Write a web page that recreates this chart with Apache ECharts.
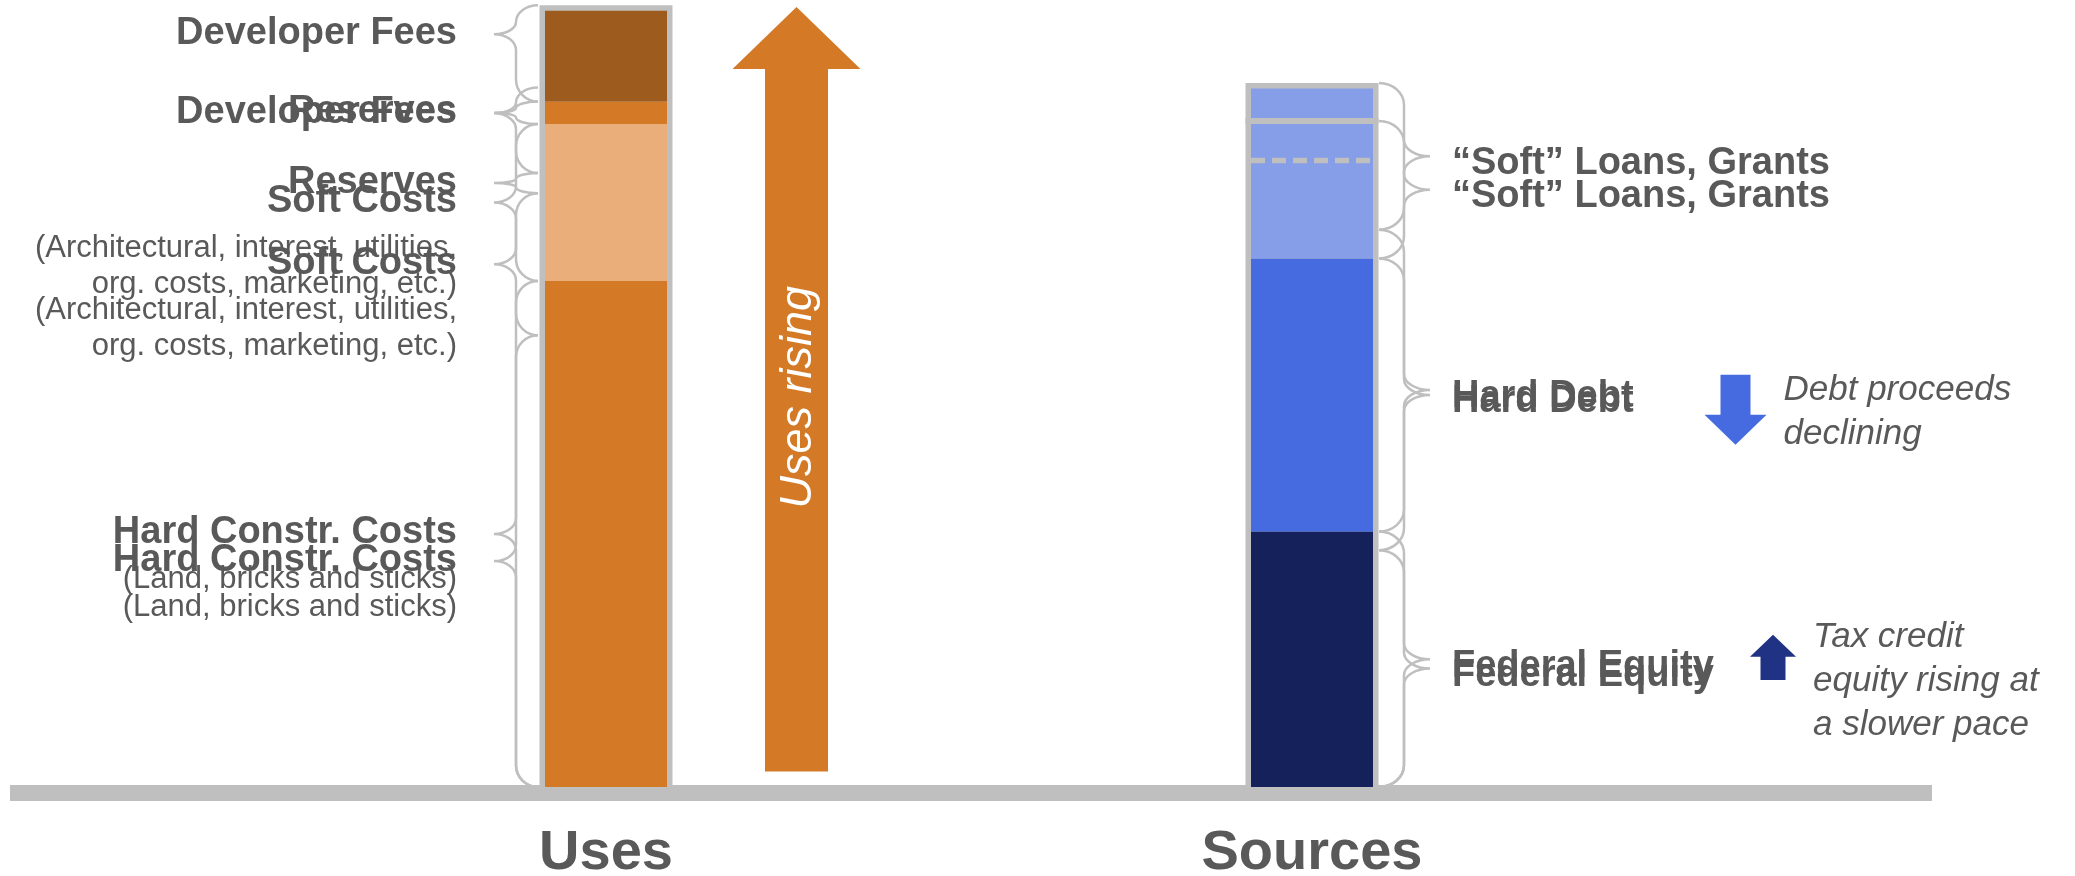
<!DOCTYPE html>
<html>
<head>
<meta charset="utf-8">
<title>Uses and Sources</title>
<script src="https://cdn.jsdelivr.net/npm/echarts@6/dist/echarts.min.js"></script>
<style>
  html, body { margin: 0; padding: 0; background: #ffffff; }
  #chart { width: 2075px; height: 876px; }
</style>
</head>
<body>
<div id="chart"></div>
<script>
// ---- data -------------------------------------------------------------
const categories = ['Uses', 'Sources'];

// Uses, bottom to top (share of total development cost)
const usesLabels = ['Hard Constr. Costs', 'Soft Costs', 'Reserves', 'Developer Fees'];
const usesNotes = ['(Land, bricks and sticks)', '(Architectural, interest, utilities,\norg. costs, marketing, etc.)', '', ''];
const usesNow = [65.2, 20.2, 2.9, 11.7];
const usesEarlier = [58.2, 18.3, 2.6, 11.0];

// Sources, bottom to top
const sourcesLabels = ['Federal Equity', 'Hard Debt', '\u201CSoft\u201D Loans, Grants'];
const sourcesNow = [32.9, 35.2, 21.9];
const sourcesEarlier = [30.5, 41.3, 18.2];
const sourcesLater = [32.9, 35.2, 17.7];
const softLoanSplit = 80.7;

// Trend arrows: [column, from, to]
const arrowValues = [[0, 2.0, 100.5], [1, 53.1, 44.1], [1, 13.8, 19.6]];
const arrowTexts = ['Uses rising', 'Debt proceeds\ndeclining', 'Tax credit\nequity rising at\na slower pace'];

// ---- styling ----------------------------------------------------------
const FONT = '"Liberation Sans", Arial, sans-serif';
const TEXT = '#595959';
const GRAY = '#BFBFBF';
const usesColors = ['#D47A27', '#E9AE79', '#D47A27', '#9D5B1E'];
const sourcesColors = ['#14215B', '#466BE0', '#869DE8'];
const BAR_W = 122;
const FRAME = 5.5;
const braceGeom = {
  '-1': { end: 68, spine: 90, tip: 112, gap: 37, dy: -1 },
  '1': { end: 67, spine: 92, tip: 118, gap: 22, dy: 7 }
};
const arrowGeom = [
  { dx: 190.5, shaft: 31.5, head: 64, headLen: 62, color: '#D47A27' },
  { dx: 423.5, shaft: 15, head: 31, headLen: 30, color: '#466BE0', noteDx: 48, noteDy: 15 },
  { dx: 461, shaft: 12.5, head: 23, headLen: 22, color: '#1F3284', noteDx: 40, noteDy: 2 }
];

const sum = a => a.reduce((s, v) => s + v, 0);
const usesTotal = sum(usesNow);
const sourcesTotal = sum(sourcesNow);

// stacked layers: layer i holds segment i of each column
const layers = [];
for (let i = 0; i < usesNow.length; i++) {
  layers.push({
    type: 'bar', stack: 'funds', barWidth: BAR_W, z: 2,
    data: [
      { value: usesNow[i], itemStyle: { color: usesColors[i] } },
      i < sourcesNow.length ? { value: sourcesNow[i], itemStyle: { color: sourcesColors[i] } } : '-'
    ]
  });
}

// gray outline behind each column
const frameData = [[0, usesTotal], [1, sourcesTotal]];
function renderFrame(params, api) {
  const pTop = api.coord([api.value(0), api.value(1)]);
  const pBot = api.coord([api.value(0), 0]);
  const half = BAR_W / 2 + FRAME;
  return {
    type: 'rect',
    shape: { x: pTop[0] - half, y: pTop[1] - FRAME, width: half * 2, height: pBot[1] - pTop[1] + FRAME },
    style: { fill: GRAY }
  };
}

function braceData(cat, sets, side, tipFracs, barTotal) {
  const out = [];
  sets.forEach(vals => {
    let lo = 0;
    vals.forEach((v, i) => {
      const hi = lo + v;
      out.push([cat, lo, hi, tipFracs[i], side, i, Math.abs(hi - barTotal) < 0.05 ? 1 : 0]);
      lo = hi;
    });
  });
  return out;
}
const braces = []
  .concat(braceData(0, [usesNow, usesEarlier], -1, [0.5, 0.5, 0.5, 0.3], usesTotal))
  .concat(braceData(1, [sourcesEarlier, sourcesLater], 1, [0.5, 0.5, 0.5], sourcesTotal));

function halfRadii(span) {
  let rE = 22, rT = 16;
  if (rE + rT > span) { const k = span / (rE + rT); rE *= k; rT *= k; }
  return [rE, rT];
}
function bracePath(x0, x1, x2, yT, yM, yB) {
  const K = 0.5523;
  const [aE, aT] = halfRadii(yM - yT);
  const [bE, bT] = halfRadii(yB - yM);
  const dE = x1 - x0, dT = x2 - x1;
  return [
    'M', x0, yT,
    'C', x0 + K * dE, yT, x1, yT + aE * (1 - K), x1, yT + aE,
    'L', x1, yM - aT,
    'C', x1, yM - aT * (1 - K), x2 - K * dT, yM, x2, yM,
    'C', x2 - K * dT, yM, x1, yM + bT * (1 - K), x1, yM + bT,
    'L', x1, yB - bE,
    'C', x1, yB - bE * (1 - K), x0 + K * dE, yB, x0, yB
  ].join(' ');
}

function renderBrace(params, api) {
  const cat = api.value(0), lo = api.value(1), hi = api.value(2);
  const frac = api.value(3), side = api.value(4), li = api.value(5), ext = api.value(6);
  const pLo = api.coord([cat, lo]);
  const pHi = api.coord([cat, hi]);
  const yB = pLo[1];
  const yT = pHi[1] - (ext ? FRAME : 0);
  const cx = pLo[0];
  const g = braceGeom[String(side)];
  const x0 = cx + side * g.end, x1 = cx + side * g.spine, x2 = cx + side * g.tip;
  const yM = yT + (yB - yT) * frac;
  const children = [{
    type: 'path',
    shape: { pathData: bracePath(x0, x1, x2, yT, yM, yB) },
    style: { fill: null, stroke: GRAY, lineWidth: 2.5 }
  }];
  const rich = {
    t: { fontFamily: FONT, fontSize: 38, fontWeight: 'bold', lineHeight: 58, fill: TEXT },
    n: { fontFamily: FONT, fontSize: 31, lineHeight: 36, fill: TEXT }
  };
  if (side < 0) {
    const note = usesNotes[li];
    let txt = '{t|' + usesLabels[li] + '}';
    if (note) txt += '\n' + note.split('\n').map(l => '{n|' + l + '}').join('\n');
    children.push({
      type: 'text', x: x2 - g.gap, y: yM + g.dy - 29,
      style: { text: txt, rich: rich, align: 'right', verticalAlign: 'top', fill: TEXT }
    });
  } else {
    children.push({
      type: 'text', x: x2 + g.gap, y: yM + g.dy,
      style: { text: '{t|' + sourcesLabels[li] + '}', rich: rich, align: 'left', verticalAlign: 'middle', fill: TEXT }
    });
  }
  return { type: 'group', children: children };
}

function renderArrow(params, api) {
  const i = params.dataIndex;
  const g = arrowGeom[i];
  const pA = api.coord([api.value(0), api.value(1)]);
  const pB = api.coord([api.value(0), api.value(2)]);
  const cx = pA[0] + g.dx;
  const yFrom = pA[1], yTip = pB[1];
  const dir = yTip < yFrom ? -1 : 1;
  const yBase = yTip - dir * g.headLen;
  const children = [{
    type: 'polygon',
    shape: { points: [
      [cx - g.shaft, yFrom], [cx - g.shaft, yBase], [cx - g.head, yBase], [cx, yTip],
      [cx + g.head, yBase], [cx + g.shaft, yBase], [cx + g.shaft, yFrom]
    ] },
    style: { fill: g.color }
  }];
  if (i === 0) {
    children.push({
      type: 'text', x: cx + 2, y: (yFrom + yTip) / 2 + 8, rotation: Math.PI / 2,
      style: { text: arrowTexts[i], fill: '#ffffff', fontFamily: FONT, fontSize: 45, fontStyle: 'italic',
               align: 'center', verticalAlign: 'middle' }
    });
  } else {
    const top = Math.min(yFrom, yTip) + g.noteDy;
    children.push({
      type: 'text', x: cx + g.noteDx, y: top - 22,
      style: { text: arrowTexts[i], fill: TEXT, fontFamily: FONT, fontSize: 35, fontStyle: 'italic',
               lineHeight: 44, align: 'left', verticalAlign: 'top' }
    });
  }
  return { type: 'group', children: children };
}

// separators drawn across the Sources column
const dividerData = [[1, sum(sourcesLater), 0], [1, softLoanSplit, 1]];
function renderDivider(params, api) {
  const p = api.coord([api.value(0), api.value(1)]);
  const dashed = api.value(2) === 1;
  const half = dashed ? BAR_W / 2 : BAR_W / 2 + FRAME;
  return {
    type: 'line',
    shape: { x1: p[0] - half, y1: p[1], x2: p[0] + half, y2: p[1] },
    style: { stroke: GRAY, lineWidth: dashed ? 5.5 : 6, lineDash: dashed ? [14, 7] : null }
  };
}

const chart = echarts.init(document.getElementById('chart'), null, { renderer: 'canvas' });
chart.setOption({
  animation: false,
  backgroundColor: '#ffffff',
  grid: [
    { left: 253, width: 1412, top: 3, bottom: 89, outerBoundsMode: 'none', containLabel: false },
    { left: 10, right: 143, top: 700, bottom: 83, outerBoundsMode: 'none', containLabel: false }
  ],
  xAxis: [
    {
      type: 'category', gridIndex: 0, data: categories,
      axisLine: { show: false }, axisTick: { show: false }, splitLine: { show: false },
      axisLabel: { fontFamily: FONT, fontSize: 56, fontWeight: 'bold', color: TEXT, margin: 67, verticalAlign: 'middle' }
    },
    {
      type: 'value', gridIndex: 1, min: 0, max: 1,
      axisLine: { show: true, lineStyle: { color: GRAY, width: 16, cap: 'butt' } },
      axisTick: { show: false }, axisLabel: { show: false }, splitLine: { show: false }
    }
  ],
  yAxis: [
    { type: 'value', gridIndex: 0, min: 0, max: 101, show: false },
    { type: 'value', gridIndex: 1, min: 0, max: 1, show: false }
  ],
  series: [
    { type: 'custom', name: 'frames', z: 1, renderItem: renderFrame, encode: { x: 0, y: 1 }, data: frameData }
  ].concat(layers).concat([
    { type: 'custom', name: 'dividers', z: 4, renderItem: renderDivider, encode: { x: 0, y: 1 }, data: dividerData },
    { type: 'custom', name: 'braces', z: 4, renderItem: renderBrace, encode: { x: 0, y: [1, 2] }, data: braces },
    { type: 'custom', name: 'arrows', z: 4, renderItem: renderArrow, encode: { x: 0, y: [1, 2] }, data: arrowValues }
  ])
});
</script>
</body>
</html>
